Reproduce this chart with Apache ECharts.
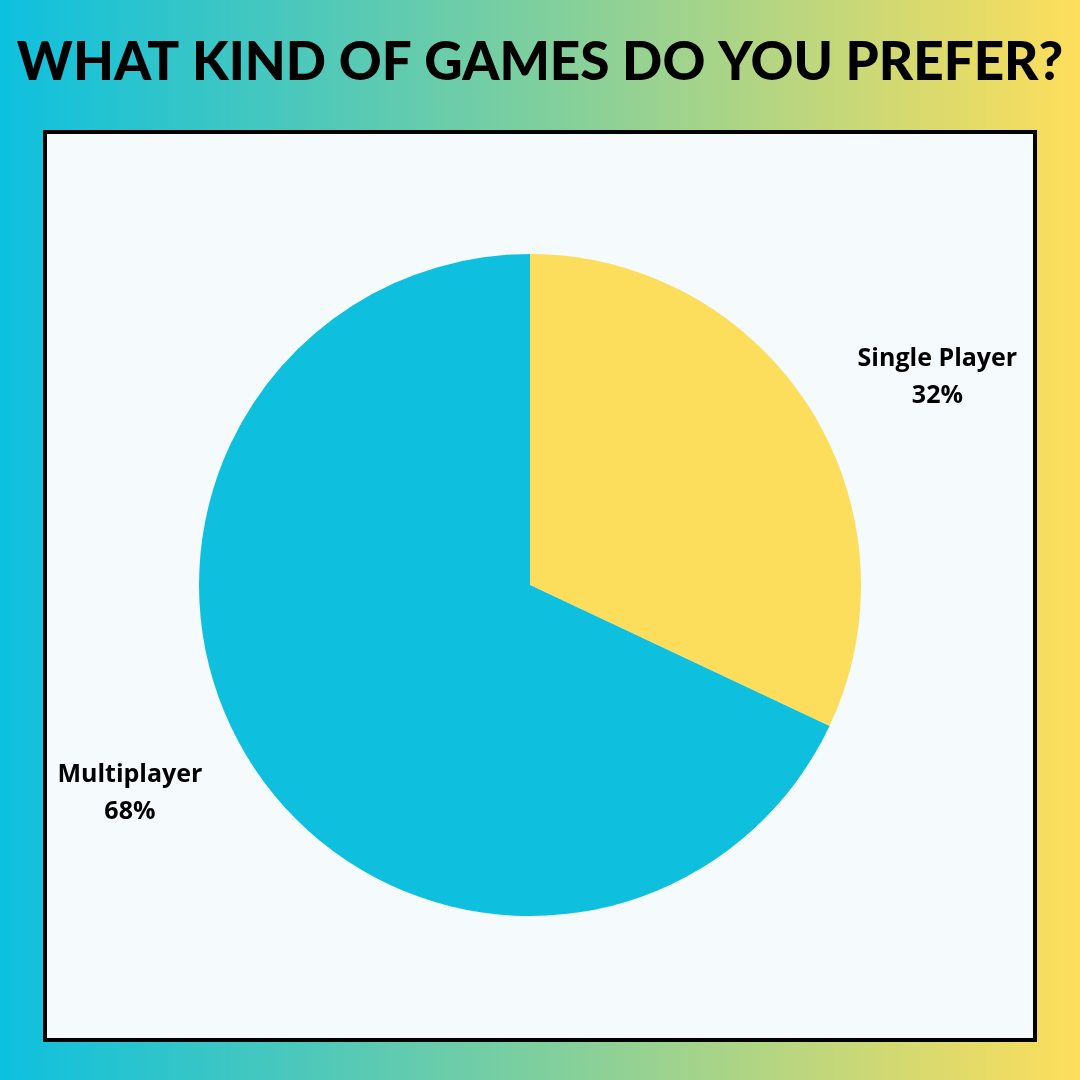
<!DOCTYPE html>
<html>
<head>
<meta charset="utf-8">
<script src="https://cdn.jsdelivr.net/npm/echarts@6/dist/echarts.min.js"></script>
<style>
  html, body { margin: 0; padding: 0; }
  #chart { width: 1080px; height: 1080px; }
</style>
</head>
<body>
<div id="chart"></div>
<script>
const titleText = 'WHAT KIND OF GAMES DO YOU PREFER?'
const categories = ['Single Player', 'Multiplayer']
const shares = [32, 68]
const sliceColors = ['#FDDE5C', '#0EC0DE']

const chart = echarts.init(document.getElementById('chart'))

chart.setOption({
  backgroundColor: {
    type: 'linear', x: 0, y: 0, x2: 1, y2: 0,
    colorStops: [
      { offset: 0, color: '#0DC0DF' },
      { offset: 0.5, color: '#7ECF9E' },
      { offset: 1, color: '#FEDE5B' }
    ]
  },
  title: {
    text: titleText,
    left: 'center',
    top: 31,
    textStyle: {
      fontFamily: 'Lato',
      fontWeight: 900,
      fontSize: 53,
      color: '#000'
    }
  },
  graphic: [
    {
      type: 'rect',
      z: -1,
      shape: { x: 45, y: 132, width: 990, height: 908 },
      style: { fill: '#F5FBFC', stroke: '#000', lineWidth: 4 }
    }
  ],
  series: [
    {
      type: 'pie',
      center: [530, 585],
      radius: 331,
      startAngle: 90,
      clockwise: true,
      silent: true,
      data: categories.map((name, i) => ({
        name: name,
        value: shares[i],
        itemStyle: { color: sliceColors[i] }
      })),
      label: {
        show: true,
        position: 'outside',
        formatter: '{b}\n{c}%',
        fontFamily: 'Open Sans',
        fontWeight: 'bold',
        fontSize: 25,
        lineHeight: 37,
        color: '#000',
        distanceToLabelLine: 0
      },
      labelLine: { show: false, length: 57, length2: 0 },
      labelLayout: function (params) {
        const r = params.labelRect
        return {
          x: r.x + r.width / 2,
          y: r.y + r.height / 2,
          align: 'center',
          verticalAlign: 'middle'
        }
      }
    }
  ]
})
</script>
</body>
</html>
